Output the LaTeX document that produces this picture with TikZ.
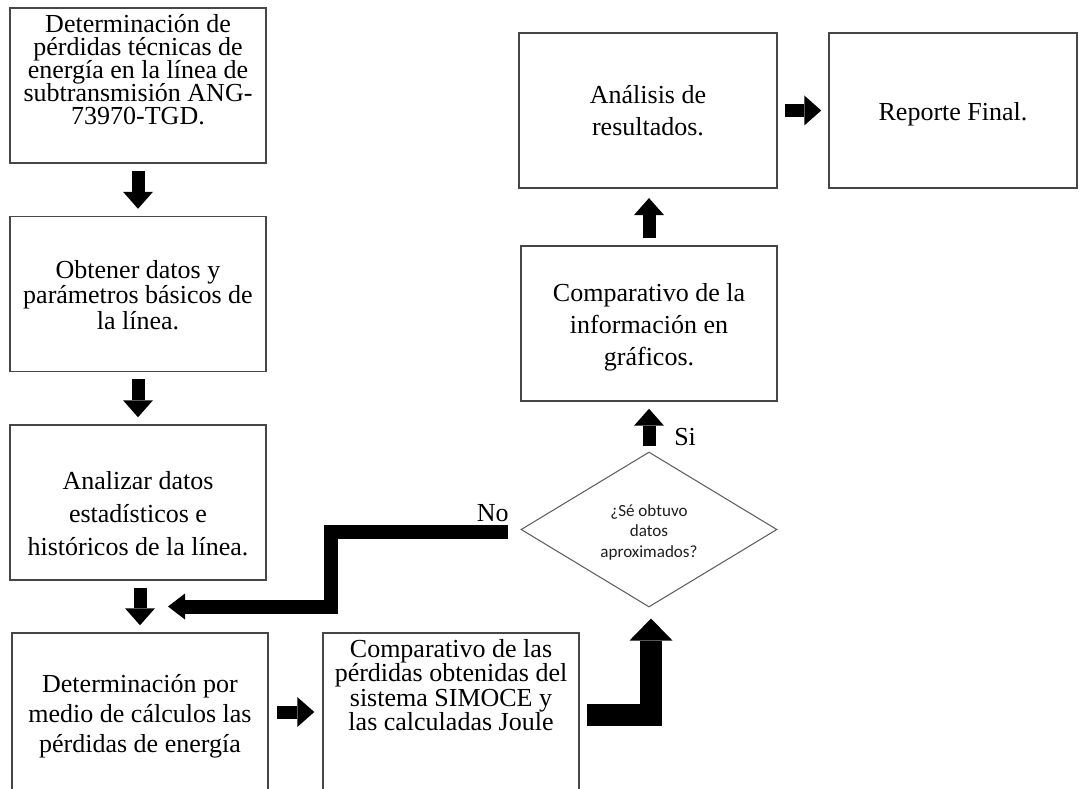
\documentclass[tikz,border=0pt]{standalone}
\usepackage{fontspec}
\setmainfont{Liberation Serif}
\newfontfamily\carlito{Carlito}
\usetikzlibrary{arrows.meta,shapes.geometric,calc}
\definecolor{boxline}{RGB}{70,70,70}
\definecolor{diamline}{RGB}{95,95,95}
\definecolor{dtext}{RGB}{30,30,30}
\newcommand\tightlines{\setlength{\lineskiplimit}{-20pt}}
\newcommand\boxfont[1]{\fontsize{19.5pt}{#1}\selectfont\tightlines}
\begin{document}
\begin{tikzpicture}[x=0.75pt,y=-0.75pt,
  box/.style={draw=boxline, line width=1.1pt, minimum width=192pt, minimum height=116.25pt, inner sep=0pt},
  txt/.style={align=center, inner sep=0pt, font={\boxfont{#1}}},
  lbl/.style={inner sep=0pt, font={\fontsize{19.5pt}{22pt}\selectfont}},
  decision/.style={diamond, draw=diamline, line width=0.8pt, minimum width=192pt, minimum height=116.25pt, inner sep=0pt},
  dtxt/.style={align=center, inner sep=0pt, text=dtext, font={\carlito\fontsize{12.8pt}{15.4pt}\selectfont\tightlines}},
  arr/.style={black, line width=9.75pt, -{Triangle[width=22.5pt,length=12.75pt,line width=0pt]}, shorten <=5.25pt, shorten >=5.25pt},
  bigarr/.style={black, line width=#1, line join=miter, line cap=butt}
]
\useasboundingbox (0,0) rectangle (1080,788);

% boxes
\node[box] (b1) at (138,85.5) {};
\node[box] (b2) at (138,294) {};
\node[box] (b3) at (138,502.5) {};
\node[box, minimum height=118.5pt] (b4) at (140,712) {};
\node[box, minimum height=118.5pt] (b5) at (451,712) {};
\node[box] (b6) at (649,323.5) {};
\node[box, minimum width=193.5pt] (b7) at (648,110.5) {};
\node[box, minimum width=186pt] (b8) at (953,110.5) {};

% texts
\node[txt=17.25pt] (t1) at (138,70) {Determinación de\\pérdidas técnicas de\\energía en la línea de\\subtransmisión ANG-\\73970-TGD.};
\node[txt=19.1pt] (t2) at (138,295) {Obtener datos y\\parámetros básicos de\\la línea.};
\node[txt=24.75pt] (t3) at (138,514) {Analizar datos\\estadísticos e\\históricos de la línea.};
\node[txt=22.5pt] (t4) at (140,716) {Determinación por\\medio de cálculos las\\pérdidas de energía};
\node[txt=18.2pt] (t5) at (451,685) {Comparativo de las\\pérdidas obtenidas del\\sistema SIMOCE y\\las calculadas Joule};
\node[txt=24pt] (t6) at (649,327) {Comparativo de la\\información en\\gráficos.};
\node[txt=24pt] (t7) at (648,111) {Análisis de\\resultados.};
\node[txt=24pt] (t8) at (953,114) {Reporte Final.};

% decision
\node[decision] (dia) at (649,529.5) {};
\node[dtxt] (dq) at (649,532) {¿Sé obtuvo\\datos\\aproximados?};

% labels
\node[lbl, anchor=base east] (no) at (509,521) {No};
\node[lbl, anchor=base west] (si) at (674,445) {Si};

% straight arrows
\draw[arr] (b1.south) -- (b2.north);
\draw[arr] (b2.south) -- (b3.north);
\draw[arr] (b4.north |- b3.south) -- (b4.north);
\draw[arr, shorten <=6.5pt, shorten >=6pt] (b4.east) -- (b5.west);
\draw[arr, shorten <=3.75pt] (dia.north) -- (b6.south);
\draw[arr, shorten >=7pt] (b6.north) -- (b6.north |- b7.south);
\draw[arr] (b7.east) -- (b8.west);

% "No" return arrow
\coordinate (nocorner) at (331,606.5);
\coordinate (noend) at (168,606.5);
\draw[bigarr=10.5pt, -{Triangle[width=19.5pt,length=12.75pt,line width=0pt]}]
  ($(dia.west)+(-12,2)$) -| (nocorner) -- (noend);

% L arrow from b5 up to decision
\draw[bigarr=16.5pt, -{Triangle[width=32.25pt,length=16.5pt,line width=0pt]}]
  ($(b5.east)+(7,3)$) -| ($(dia.south)+(2,11)$);
\end{tikzpicture}
\end{document}
